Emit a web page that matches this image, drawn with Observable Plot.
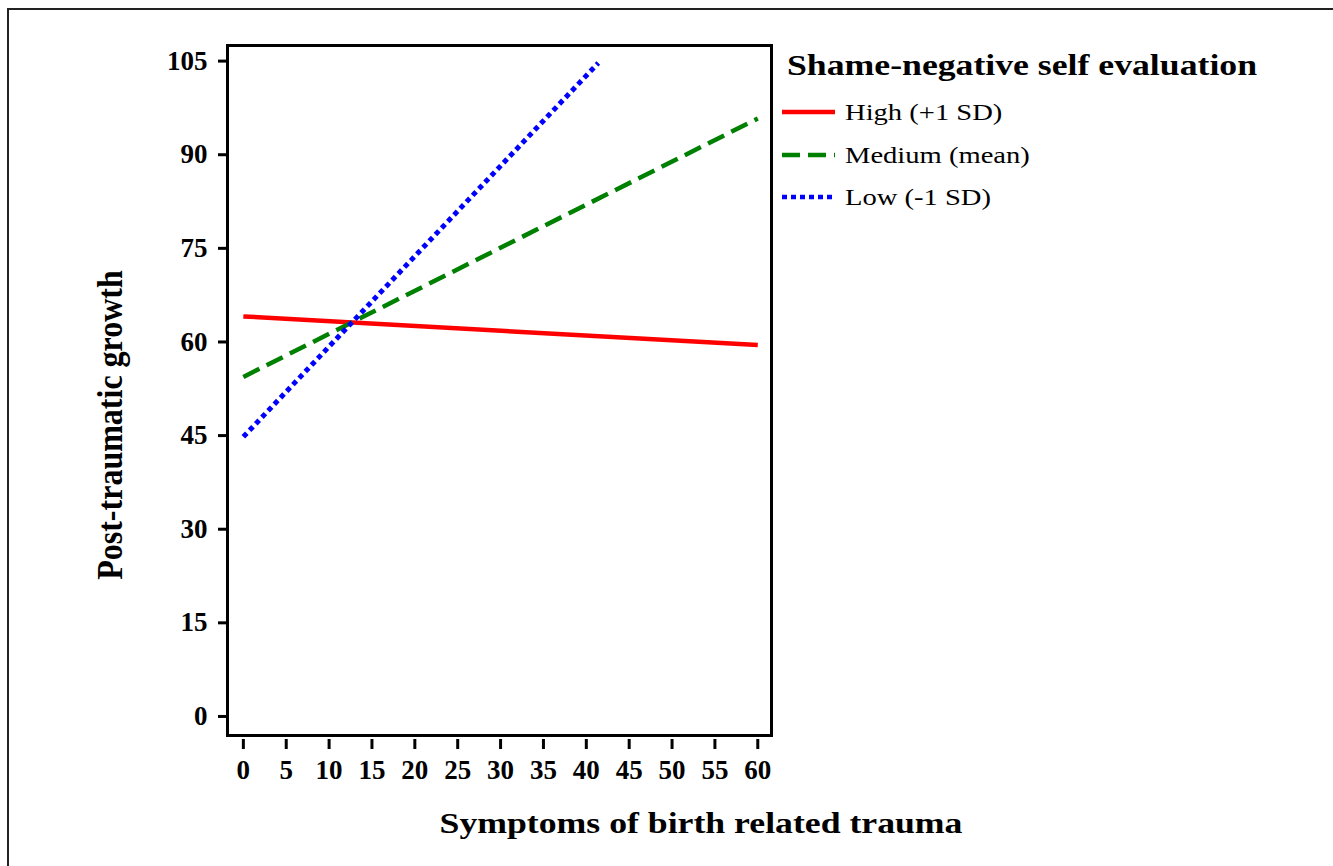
<!DOCTYPE html>
<html>
<head>
<meta charset="utf-8">
<script src="https://cdn.jsdelivr.net/npm/d3@7"></script>
<script src="https://cdn.jsdelivr.net/npm/@observablehq/plot@0.6"></script>
<style>
  html, body { margin: 0; padding: 0; background: #fff; overflow: hidden; }
  #wrap { position: relative; width: 1333px; height: 866px; overflow: hidden; font-family: "Liberation Serif", "Times New Roman", serif; }
  #border { position: absolute; left: 7px; top: 8px; width: 1400px; height: 1000px; border-top: 2px solid #222; border-left: 2px solid #222; }
  .abs { position: absolute; white-space: nowrap; color: #000; }
  #ylab { font-size: 32px; font-weight: bold; left: 110px; top: 425px; transform: translate(-50%, -50%) rotate(-90deg) scaleY(1.15); }
  #xlab { font-size: 30px; font-weight: bold; left: 701px; top: 823px; transform: translate(-50%, -50%) scaleX(1.19); }
  #legtitle { font-size: 30px; font-weight: bold; left: 787px; top: 65px; transform-origin: left center; transform: translateY(-50%) scaleX(1.19); }
  .legrow { position: absolute; left: 781px; height: 30px; display: flex; align-items: center; transform: translateY(-50%); font-size: 24px; }
  .legrow svg { margin-right: 9px; }
  .legrow span { display: inline-block; transform-origin: left center; transform: scaleX(1.19); }
</style>
</head>
<body>
<div id="wrap">
  <div id="border"></div>
  <div id="chart" style="position:absolute;left:0;top:0;"></div>
  <div id="ylab" class="abs">Post-traumatic growth</div>
  <div id="xlab" class="abs">Symptoms of birth related trauma</div>
  <div id="legtitle" class="abs">Shame-negative self evaluation</div>
  <div id="legend"></div>
</div>
<script>
// Series (simple slopes)
const seriesNames = ["High (+1 SD)", "Medium (mean)", "Low (-1 SD)"];
const seriesColors = ["#ff0000", "#008000", "#0000ff"];
const seriesDash = [null, "18,8", "5,4"];
const xStart = [0, 0, 0];
const xEnd = [60, 60, 41.4];
const yStart = [64.1, 54.4, 44.8];
const yEnd = [59.5, 95.8, 104.7];
const xTicks = [0, 5, 10, 15, 20, 25, 30, 35, 40, 45, 50, 55, 60];
const yTicks = [0, 15, 30, 45, 60, 75, 90, 105];

const rows = [];
seriesNames.forEach((s, i) => {
  rows.push({series: s, x: xStart[i], y: yStart[i]});
  rows.push({series: s, x: xEnd[i], y: yEnd[i]});
});

const lineMarks = seriesNames.map((s, i) =>
  Plot.line(rows.filter(d => d.series === s), {
    x: "x", y: "y",
    stroke: seriesColors[i],
    strokeWidth: i === 2 ? 5 : 4.5,
    strokeDasharray: seriesDash[i] || undefined,
    strokeLinecap: "butt"
  })
);

const chart = Plot.plot({
  width: 1333,
  height: 866,
  marginLeft: 227,
  marginRight: 562,
  marginTop: 45,
  marginBottom: 131,
  style: {fontFamily: "'Liberation Serif', 'Times New Roman', serif", fontSize: "27px", fontWeight: "bold", color: "#000", background: "transparent"},
  x: {domain: [-1.85, 61.6], ticks: xTicks},
  y: {domain: [-3.05, 107.5], ticks: yTicks},
  marks: [
    Plot.axisY({ticks: yTicks, tickSize: 9, tickPadding: 11, strokeWidth: 3, label: null}),
    Plot.axisX({ticks: xTicks, tickSize: 10, tickPadding: 10, strokeWidth: 3, dy: 4, label: null}),
    ...lineMarks,
    Plot.frame({stroke: "#000", strokeWidth: 3})
  ]
});
document.getElementById("chart").appendChild(chart);

// Legend
const rowY = [112, 155, 197];
const legend = document.getElementById("legend");
seriesNames.forEach((s, i) => {
  const row = document.createElement("div");
  row.className = "legrow";
  row.style.top = rowY[i] + "px";
  const ns = "http://www.w3.org/2000/svg";
  const svg = document.createElementNS(ns, "svg");
  svg.setAttribute("width", 55);
  svg.setAttribute("height", 10);
  const ln = document.createElementNS(ns, "line");
  ln.setAttribute("x1", 1); ln.setAttribute("x2", 54);
  ln.setAttribute("y1", 5); ln.setAttribute("y2", 5);
  ln.setAttribute("stroke", seriesColors[i]);
  ln.setAttribute("stroke-width", 4.5);
  if (seriesDash[i]) ln.setAttribute("stroke-dasharray", seriesDash[i]);
  svg.appendChild(ln);
  row.appendChild(svg);
  const t = document.createElement("span");
  t.textContent = s;
  row.appendChild(t);
  legend.appendChild(row);
});
</script>
</body>
</html>
